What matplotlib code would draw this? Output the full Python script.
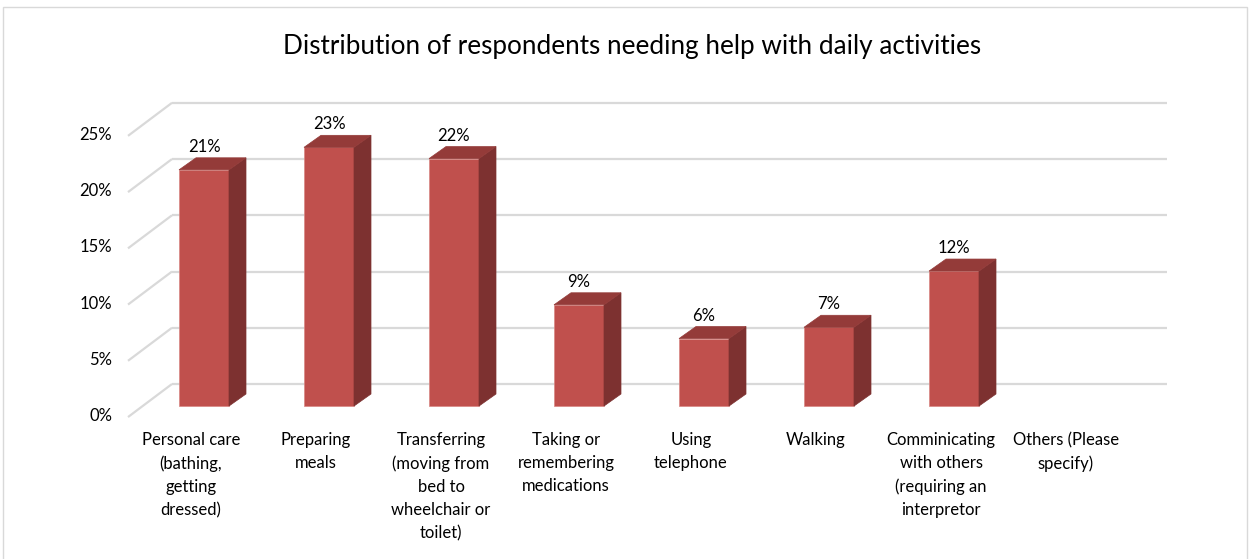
import numpy as np
import matplotlib.pyplot as plt
from matplotlib.patches import Polygon, Rectangle

plt.rcParams['font.family'] = ['Lato', 'DejaVu Sans']

title = "Distribution of respondents needing help with daily activities"
categories = [
    "Personal care\n(bathing,\ngetting\ndressed)",
    "Preparing\nmeals",
    "Transferring\n(moving from\nbed to\nwheelchair or\ntoilet)",
    "Taking or\nremembering\nmedications",
    "Using\ntelephone",
    "Walking",
    "Comminicating\nwith others\n(requiring an\ninterpretor",
    "Others (Please\nspecify)",
]
values = [21, 23, 22, 9, 6, 7, 12, np.nan]
yticks = [0, 5, 10, 15, 20, 25]

# colours
front_c = "#C0504D"
side_c = "#7D3130"
top_c = "#943B39"
grid_c = "#D9D9D9"

# 3d-ish geometry (x in category units, y in percent)
bar_w = 0.4
dx, dy = 0.136, 1.07          # bar depth
wall_dx, wall_dy = 0.352, 2.94  # floor depth front->back
front_x, front_y = -0.608, -0.98
wall_right = 7.704

fig = plt.figure(figsize=(12.5, 5.59), dpi=100)
ax = fig.add_axes([0, 0, 1, 1])
ax.set_xlim(-1.632, 8.368)
ax.set_ylim(-13.6, 36.1)
ax.axis("off")

# chart border
fig.patches.append(Rectangle((3 / 1250, -0.01), 1244 / 1250, 1 - 7 / 559 + 0.01,
                             transform=fig.transFigure, fill=False,
                             edgecolor="#D9D9D9", lw=1))

# gridlines: diagonal on the side wall + back wall
for v in yticks:
    ax.plot([front_x, front_x + wall_dx], [v + front_y, v + front_y + wall_dy],
            color=grid_c, lw=1.6, zorder=1, solid_capstyle="butt")
    ax.plot([front_x + wall_dx, wall_right], [v + front_y + wall_dy] * 2,
            color=grid_c, lw=1.6, zorder=1, solid_capstyle="butt")
    ax.text(-0.736, v - 0.9, f"{v}%", ha="right", va="center", fontsize=12)

for i, v in enumerate(values):
    x0, x1 = i - bar_w / 2, i + bar_w / 2
    if not np.isnan(v):
        ax.add_patch(Rectangle((x0, 0), bar_w, v, facecolor=front_c,
                               edgecolor="#D98683", lw=0.5, zorder=3))
        ax.add_patch(Polygon([(x1, 0), (x1 + dx, dy), (x1 + dx, v + dy), (x1, v)],
                             facecolor=side_c, edgecolor=side_c, lw=0.5, zorder=3))
        ax.add_patch(Polygon([(x0, v), (x1, v), (x1 + dx, v + dy), (x0 + dx, v + dy)],
                             facecolor=top_c, edgecolor=top_c, lw=0.5, zorder=3))
        ax.text(i, v + dy + 0.25, f"{v:.0f}%", ha="center", va="bottom", fontsize=12)
    ax.text(i - 0.104, -2.35, categories[i], ha="center", va="top",
            fontsize=12, linespacing=1.53)

fig.text(0.506, 0.916, title, ha="center", va="center", fontsize=18.8)

fig.savefig("out.png", dpi=100, facecolor="white")
